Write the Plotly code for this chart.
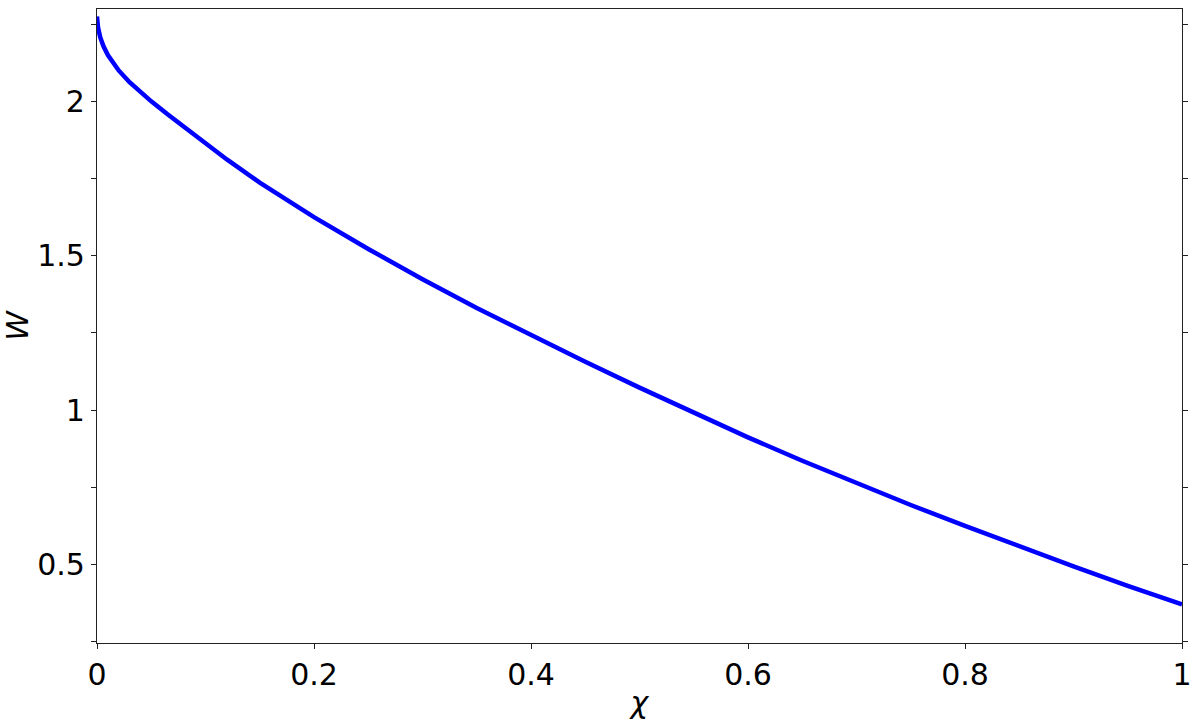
import plotly.graph_objects as go

chi = [0.0, 0.001, 0.003, 0.006, 0.01, 0.015, 0.02, 0.03, 0.04, 0.05, 0.065, 0.08, 0.1, 0.12, 0.15, 0.175,
       0.2, 0.25, 0.3, 0.35, 0.4, 0.45, 0.5, 0.55, 0.6, 0.65, 0.7, 0.75, 0.8, 0.85, 0.9, 0.95, 1.0]
W = [2.275, 2.238, 2.207, 2.178, 2.150, 2.123, 2.100, 2.062, 2.029, 2.000, 1.958, 1.917, 1.863, 1.811, 1.737, 1.679,
     1.625, 1.522, 1.424, 1.331, 1.243, 1.157, 1.073, 0.991, 0.912, 0.836, 0.763, 0.693, 0.625, 0.558, 0.494, 0.431, 0.371]

x_tickvals = [0, 0.2, 0.4, 0.6, 0.8, 1]
x_ticktext = ["0", "0.2", "0.4", "0.6", "0.8", "1"]
y_tickvals = [0.25, 0.5, 0.75, 1.0, 1.25, 1.5, 1.75, 2.0, 2.25]
y_ticktext = ["", "0.5", "", "1", "", "1.5", "", "2", ""]

fig = go.Figure()
fig.add_trace(go.Scatter(x=chi, y=W, mode="lines", line=dict(color="#0000ff", width=4.5),
                         showlegend=False, hoverinfo="skip"))

axis_common = dict(showgrid=False, zeroline=False, showline=True, linecolor="#222222", linewidth=1.2,
                   ticks="outside", ticklen=5, tickwidth=1.2, tickcolor="#222222",
                   tickfont=dict(family="DejaVu Sans", size=30, color="black"))

fig.update_layout(
    width=1200, height=721,
    margin=dict(l=95, r=17, t=8, b=76),
    paper_bgcolor="white", plot_bgcolor="white",
    font=dict(family="DejaVu Sans", color="black"),
    xaxis=dict(range=[0, 1], tickvals=x_tickvals, ticktext=x_ticktext, mirror=True,
               title=dict(text="<i>χ</i>", font=dict(size=30, family="DejaVu Sans"), standoff=0),
               **axis_common),
    yaxis=dict(range=[0.246, 2.299], tickvals=y_tickvals, ticktext=y_ticktext, mirror="ticks",
               title=dict(text="<i>W</i>", font=dict(size=30, family="DejaVu Sans"), standoff=8),
               **axis_common),
)

fig.write_html("out.html", config={"displayModeBar": False},
               post_script="document.body.style.margin='0';document.body.style.padding='0';")
